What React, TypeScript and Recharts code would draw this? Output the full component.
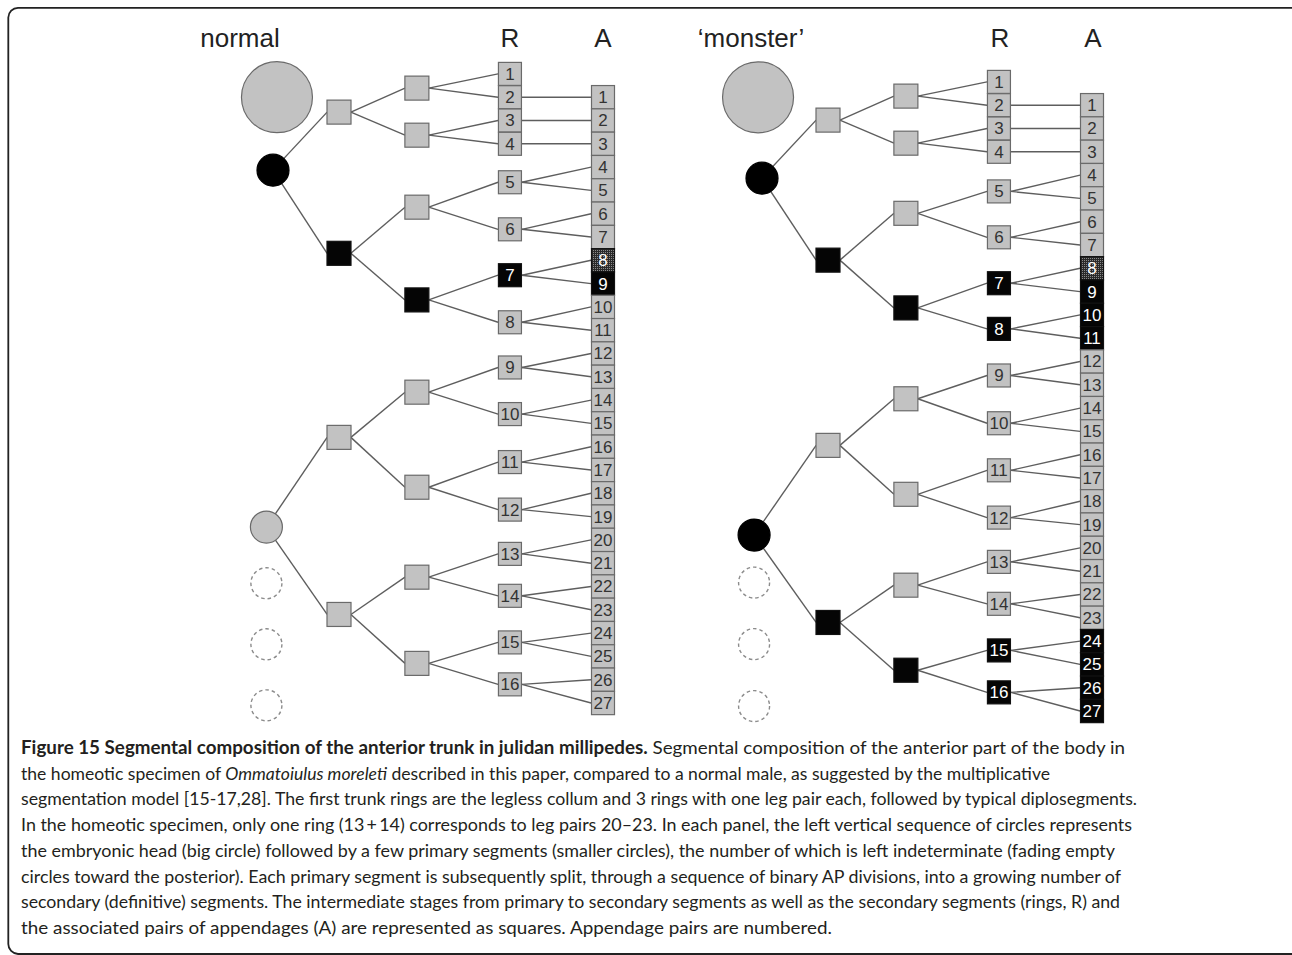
import React from 'react';
import { ScatterChart, Scatter, XAxis, YAxis } from 'recharts';

// x = division stage (primary segment -> rings -> leg pairs), y = position along the body in leg-pair units
const STAGE_FIRST = 2;
const STAGE_SECOND = 4.36;
const STAGE_RING = 7.18;
const STAGE_PAIR = 10;
const HALF = 0.36; // half a square, in stage units

// shared tree topology
const firstParent = [0, 0, 1, 1];
const secondParent = [0, 0, 1, 1, 2, 2, 3, 3];
const ringParent = [0, 0, 1, 1, 2, 2, 3, 3, 4, 4, 5, 5, 6, 6, 7, 7];
const pairRing = [2, 3, 4, 5, 5, 6, 6, 7, 7, 8, 8, 9, 9, 10, 10, 11, 11, 12, 12, 13, 13, 14, 14, 15, 15, 16, 16];

// normal male
const normalHead = [{ x: 0.12, y: 1 }];
const normalPrimary = [
  { x: 0, y: 4.13, kind: 'black' },
  { x: -0.2, y: 19.45, kind: 'gray' },
  { x: -0.2, y: 21.86, kind: 'empty' },
  { x: -0.2, y: 24.48, kind: 'empty' },
  { x: -0.2, y: 27.1, kind: 'empty' },
];
const normalFirstY = [1.64, 7.7, 15.6, 23.2];
const normalFirstKind = ['gray', 'black', 'gray', 'gray'];
const normalSecondY = [0.61, 2.63, 5.72, 9.7, 13.66, 17.74, 21.6, 25.3];
const normalSecondKind = ['gray', 'gray', 'gray', 'black', 'gray', 'gray', 'gray', 'gray'];
const normalRingY = [0, 1, 2, 3, 4.65, 6.67, 8.64, 10.66, 12.6, 14.6, 16.66, 18.7, 20.6, 22.4, 24.4, 26.2];
const normalDarkRings: Record<number, string> = { 7: 'black' };
const normalDarkPairs: Record<number, string> = { 8: 'stipple', 9: 'black' };

// homeotic 'monster'
const monsterHead = [{ x: -0.12, y: 0.66 }];
const monsterPrimary = [
  { x: 0, y: 4.13, kind: 'black' },
  { x: -0.24, y: 19.45, kind: 'black' },
  { x: -0.24, y: 21.49, kind: 'empty' },
  { x: -0.24, y: 24.13, kind: 'empty' },
  { x: -0.24, y: 26.79, kind: 'empty' },
];
const monsterFirstY = [1.64, 7.65, 15.6, 23.2];
const monsterFirstKind = ['gray', 'black', 'gray', 'black'];
const monsterSecondY = [0.61, 2.63, 5.64, 9.7, 13.6, 17.7, 21.6, 25.25];
const monsterSecondKind = ['gray', 'gray', 'gray', 'black', 'gray', 'gray', 'gray', 'black'];
const monsterRingY = [0, 1, 2, 3, 4.7, 6.67, 8.64, 10.6, 12.6, 14.65, 16.67, 18.7, 20.6, 22.4, 24.4, 26.2];
const monsterDarkRings: Record<number, string> = { 7: 'black', 8: 'black', 15: 'black', 16: 'black' };
const monsterDarkPairs: Record<number, string> = {
  8: 'stipple', 9: 'black', 10: 'black', 11: 'black', 24: 'black', 25: 'black', 26: 'black', 27: 'black',
};

const captionLines = [
  { end: 1125, parts: [['b', 'Figure 15 Segmental composition of the anterior trunk in julidan millipedes.'], ['r', ' Segmental composition of the anterior part of the body in']] },
  { end: 1050, parts: [['r', 'the homeotic specimen of '], ['i', 'Ommatoiulus moreleti'], ['r', ' described in this paper, compared to a normal male, as suggested by the multiplicative']] },
  { end: 1137, parts: [['r', 'segmentation model [15-17,28]. The first trunk rings are the legless collum and 3 rings with one leg pair each, followed by typical diplosegments.']] },
  { end: 1132, parts: [['r', 'In the homeotic specimen, only one ring (13\u2009+\u200914) corresponds to leg pairs 20\u201323. In each panel, the left vertical sequence of circles represents']] },
  { end: 1115, parts: [['r', 'the embryonic head (big circle) followed by a few primary segments (smaller circles), the number of which is left indeterminate (fading empty']] },
  { end: 1121, parts: [['r', 'circles toward the posterior). Each primary segment is subsequently split, through a sequence of binary AP divisions, into a growing number of']] },
  { end: 1120, parts: [['r', 'secondary (definitive) segments. The intermediate stages from primary to secondary segments as well as the secondary segments (rings, R) and']] },
  { end: 832, parts: [['r', 'the associated pairs of appendages (A) are represented as squares. Appendage pairs are numbered.']] },
];

const GRAY = '#c2c2c2';
const OUTLINE = '#6a6a6a';
const LINE = '#5e5e5e';
const LABEL_FONT = '"Liberation Sans", Arial, sans-serif';

const fillOf = (kind: string) => (kind === 'black' ? '#050505' : kind === 'stipple' ? 'url(#stipple)' : GRAY);

const headShape = (p: any) => (
  <circle cx={p.cx} cy={p.cy} r={35.5} fill={GRAY} stroke={OUTLINE} strokeWidth={1.2} />
);

const primaryShape = (p: any) => {
  const kind = p.payload.kind;
  if (kind === 'empty') {
    return <circle cx={p.cx} cy={p.cy} r={15.5} fill="none" stroke="#8c8c8c" strokeWidth={1.4} strokeDasharray="3.5 3" />;
  }
  return (
    <circle cx={p.cx} cy={p.cy} r={16} fill={kind === 'black' ? '#000' : GRAY}
      stroke={kind === 'black' ? '#000' : OUTLINE} strokeWidth={1.2} />
  );
};

const boxShape = (w: number, h: number) => (p: any) => {
  const { cx, cy, payload } = p;
  const dark = payload.kind !== 'gray';
  return (
    <g>
      {payload.kind === 'stipple' && (
        <defs>
          <pattern id="stipple" width="2" height="2" patternUnits="userSpaceOnUse">
            <rect width="2" height="2" fill="#2a2a2a" />
            <rect width="1" height="1" fill="#8a8a8a" />
          </pattern>
        </defs>
      )}
      <rect x={cx - w / 2} y={cy - h / 2} width={w} height={h} fill={fillOf(payload.kind)}
        stroke={dark ? '#111' : OUTLINE} strokeWidth={1.2} />
      {payload.label !== undefined && (
        <text x={cx} y={cy + 6} textAnchor="middle" fontSize={17} fontFamily={LABEL_FONT}
          fill={dark ? '#fff' : '#333'}>
          {payload.label}
        </text>
      )}
    </g>
  );
};

const blank = () => <g />;

type PanelProps = {
  left: number;
  top: number;
  head: { x: number; y: number }[];
  primary: { x: number; y: number; kind: string }[];
  firstY: number[];
  firstKind: string[];
  secondY: number[];
  secondKind: string[];
  ringY: number[];
  darkRings: Record<number, string>;
  darkPairs: Record<number, string>;
};

function Panel(props: PanelProps) {
  const first = props.firstY.map((y, i) => ({ x: STAGE_FIRST, y, kind: props.firstKind[i] }));
  const second = props.secondY.map((y, i) => ({ x: STAGE_SECOND, y, kind: props.secondKind[i] }));
  const rings = props.ringY.map((y, i) => ({ x: STAGE_RING, y, kind: props.darkRings[i + 1] || 'gray', label: i + 1 }));
  const pairs = pairRing.map((r, i) => ({ x: STAGE_PAIR, y: i + 1, kind: props.darkPairs[i + 1] || 'gray', label: i + 1, ring: r }));

  const edges: { x: number; y: number }[][] = [];
  first.forEach((n, i) => {
    const p = props.primary[firstParent[i]];
    edges.push([{ x: p.x, y: p.y }, { x: n.x - HALF, y: n.y }]);
  });
  second.forEach((n, i) => {
    const p = first[secondParent[i]];
    edges.push([{ x: p.x + HALF, y: p.y }, { x: n.x - HALF, y: n.y }]);
  });
  rings.forEach((n, i) => {
    const p = second[ringParent[i]];
    edges.push([{ x: p.x + HALF, y: p.y }, { x: n.x - HALF, y: n.y }]);
  });
  pairs.forEach((n) => {
    const p = rings[n.ring - 1];
    edges.push([{ x: p.x + HALF, y: p.y }, { x: n.x - HALF, y: n.y }]);
  });

  return (
    <div style={{ position: 'absolute', left: props.left, top: props.top }}>
      <ScatterChart width={660} height={722.3} margin={{ top: 0, right: 0, bottom: 0, left: 0 }}>
        <XAxis type="number" dataKey="x" domain={[-8, 12]} hide />
        <YAxis type="number" dataKey="y" domain={[-3, 28]} reversed hide />
        {edges.map((e, i) => (
          <Scatter key={'e' + i} data={e} line={{ stroke: LINE, strokeWidth: 1.4 }} lineJointType="linear"
            shape={blank} isAnimationActive={false} />
        ))}
        <Scatter data={props.head} shape={headShape} isAnimationActive={false} />
        <Scatter data={props.primary} shape={primaryShape} isAnimationActive={false} />
        <Scatter data={first} shape={boxShape(24, 24)} isAnimationActive={false} />
        <Scatter data={second} shape={boxShape(24, 24)} isAnimationActive={false} />
        <Scatter data={rings} shape={boxShape(23, 23)} isAnimationActive={false} />
        <Scatter data={pairs} shape={boxShape(23, 23.3)} isAnimationActive={false} />
      </ScatterChart>
    </div>
  );
}

export default function App() {
  const headerStyle = { fontFamily: LABEL_FONT, fontSize: 26, fill: '#222' };
  return (
    <div style={{ position: 'relative', width: 1292, height: 955, background: '#fff', overflow: 'hidden' }}>
      <style>{'body{margin:0}'}</style>
      <svg width={1292} height={955} style={{ position: 'absolute', left: 0, top: 0 }}>
        <path d="M 1300 7.8 H 18 A 10 10 0 0 0 8.3 17.5 V 944 A 10 10 0 0 0 18 954 H 1300" fill="none" stroke="#222" strokeWidth={1.8} />
        <text x={240} y={47} textAnchor="middle" {...headerStyle}>normal</text>
        <text x={510} y={47} textAnchor="middle" {...headerStyle}>R</text>
        <text x={603} y={47} textAnchor="middle" {...headerStyle}>A</text>
        <text x={751} y={47} textAnchor="middle" {...headerStyle}>{'\u2018monster\u2019'}</text>
        <text x={1000} y={47} textAnchor="middle" {...headerStyle}>R</text>
        <text x={1093} y={47} textAnchor="middle" {...headerStyle}>A</text>
        {captionLines.map((line, i) => (
          <text key={i} x={21} y={754 + i * 25.7} textLength={line.end - 21} lengthAdjust="spacingAndGlyphs"
            fontFamily="Lato, 'Open Sans', sans-serif" fontSize={18} fill="#231f20">
            {line.parts.map(([style, txt], j) => (
              <tspan key={j} fontWeight={style === 'b' ? 'bold' : 'normal'} fontStyle={style === 'i' ? 'italic' : 'normal'}>
                {txt}
              </tspan>
            ))}
          </text>
        ))}
      </svg>
      <Panel left={9} top={3.8} head={normalHead} primary={normalPrimary}
        firstY={normalFirstY} firstKind={normalFirstKind} secondY={normalSecondY} secondKind={normalSecondKind}
        ringY={normalRingY} darkRings={normalDarkRings} darkPairs={normalDarkPairs} />
      <Panel left={498} top={11.8} head={monsterHead} primary={monsterPrimary}
        firstY={monsterFirstY} firstKind={monsterFirstKind} secondY={monsterSecondY} secondKind={monsterSecondKind}
        ringY={monsterRingY} darkRings={monsterDarkRings} darkPairs={monsterDarkPairs} />
    </div>
  );
}
